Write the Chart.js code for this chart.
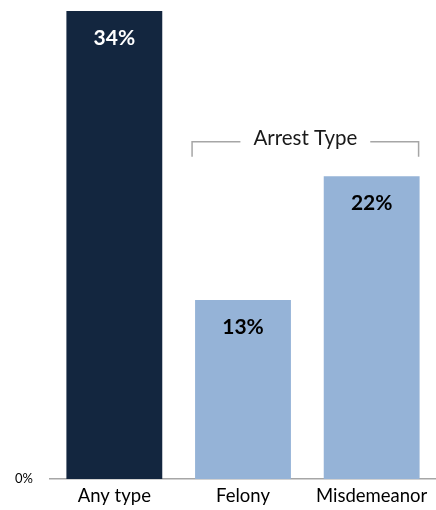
<!DOCTYPE html>
<html lang="en">
<head>
  <meta charset="UTF-8" />
  <title>Arrest type</title>
  <script src="https://cdn.jsdelivr.net/npm/chart.js"></script>
  <style>
    html, body { margin: 0; padding: 0; background: #fff; }
    .wrap { width: 436px; height: 510px; }
  </style>
</head>
<body>
  <div class="wrap"><canvas id="chartArrest"></canvas></div>

  <script>
    const categorias = ['Any type', 'Felony', 'Misdemeanor'];
    const valores = [34, 13, 22];
    const cores = ['#13263f', '#95b3d7', '#95b3d7'];
    const corRotulos = ['#ffffff', '#000000', '#000000'];
    const tituloGrupo = 'Arrest Type';

    const fonte = "Lato, 'Open Sans', sans-serif";

    // rótulos dentro das barras + colchete "Arrest Type"
    const extras = {
      id: 'extras',
      afterDatasetsDraw(chart) {
        const ctx = chart.ctx;
        const meta = chart.getDatasetMeta(0);
        ctx.save();
        ctx.textAlign = 'center';
        ctx.textBaseline = 'middle';
        ctx.font = 'bold 21px ' + fonte;
        meta.data.forEach((bar, i) => {
          ctx.fillStyle = corRotulos[i];
          ctx.fillText(valores[i] + '%', bar.x, bar.y + 27);
        });

        const b1 = meta.data[1], b2 = meta.data[2];
        const esq = b1.x - b1.width / 2 - 3;
        const dir = b2.x + b2.width / 2 - 1;
        const y = chart.scales.y.getPixelForValue(24.5);
        const meio = (esq + dir) / 2;
        ctx.font = '20.5px ' + fonte;
        const larg = ctx.measureText(tituloGrupo).width;
        ctx.strokeStyle = '#a6a6a6';
        ctx.lineWidth = 1.5;
        ctx.beginPath();
        ctx.moveTo(esq, y + 15);
        ctx.lineTo(esq, y);
        ctx.lineTo(meio - larg / 2 - 13, y);
        ctx.moveTo(meio + larg / 2 + 13, y);
        ctx.lineTo(dir, y);
        ctx.lineTo(dir, y + 15);
        ctx.stroke();
        ctx.fillStyle = '#1a1a1a';
        ctx.fillText(tituloGrupo, meio, y - 3);
        ctx.restore();
      }
    };

    new Chart(document.getElementById('chartArrest'), {
      type: 'bar',
      data: {
        labels: categorias,
        datasets: [{
          data: valores,
          backgroundColor: cores,
          barPercentage: 0.745,
          categoryPercentage: 1
        }]
      },
      options: {
        responsive: true,
        maintainAspectRatio: false,
        animation: false,
        layout: { padding: { top: 11, right: 0, bottom: 0, left: 15 } },
        plugins: { legend: { display: false }, tooltip: { enabled: false } },
        scales: {
          x: {
            grid: { display: false, drawTicks: false },
            border: { display: true, color: '#a6a6a6', width: 1.5 },
            ticks: { color: '#000', font: { family: fonte, size: 18.5 }, padding: 6 },
            afterFit(scale) { scale.height = 31; }
          },
          y: {
            min: 0,
            max: 34,
            grid: { display: false, drawTicks: false },
            border: { display: false },
            ticks: {
              color: '#000',
              font: { family: fonte, size: 13 },
              padding: 0,
              crossAlign: 'far',
              callback: v => v + '%'
            },
            afterBuildTicks(scale) { scale.ticks = scale.ticks.filter(t => t.value === 0); },
            afterFit(scale) { scale.width = 35; }
          }
        }
      },
      plugins: [extras]
    });
  </script>
</body>
</html>
